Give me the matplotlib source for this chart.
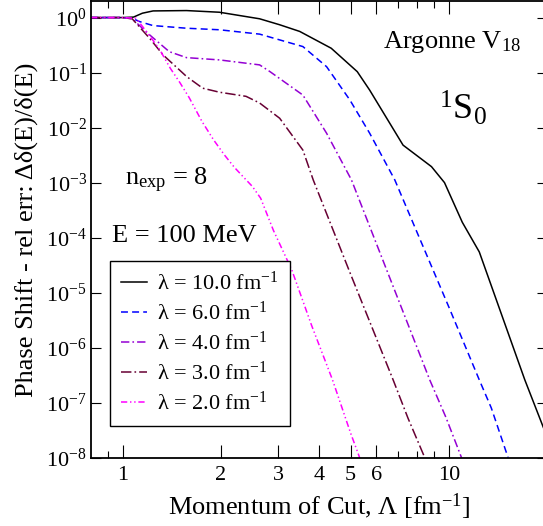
import matplotlib
matplotlib.use('Agg')
import matplotlib.pyplot as plt
import matplotlib.ticker as mticker

plt.rcParams['font.family'] = ['Liberation Serif', 'DejaVu Serif']
plt.rcParams['mathtext.fontset'] = 'custom'
plt.rcParams['mathtext.rm'] = 'Liberation Serif'
plt.rcParams['mathtext.it'] = 'Liberation Serif:italic'
plt.rcParams['mathtext.bf'] = 'Liberation Serif:bold'
plt.rcParams['lines.scale_dashes'] = False

# relative error of the 1S0 phase shift vs. momentum cut, one curve per lambda
lam_labels = ['λ = 10.0 fm$^{-1}$', 'λ = 6.0 fm$^{-1}$',
              'λ = 4.0 fm$^{-1}$', 'λ = 3.0 fm$^{-1}$',
              'λ = 2.0 fm$^{-1}$']

cut_10 = [0.8, 1.0, 1.08, 1.15, 1.24, 1.57, 1.98, 2.63, 3.03, 3.49, 4.36, 5.24,
          5.72, 7.24, 8.85, 9.7, 11.0, 12.4, 17.1, 20.0]
err_10 = [1, 1, 1.02, 1.2, 1.32, 1.34, 1.25, 0.95, 0.74, 0.56, 0.277, 0.104,
          0.048, 4.8e-3, 1.95e-3, 1e-3, 1.9e-4, 5.5e-5, 2.6e-7, 2.4e-8]

cut_6 = [0.8, 1.0, 1.07, 1.127, 1.239, 1.57, 1.98, 2.63, 3.57, 4.22, 4.97, 5.72,
         6.83, 8.0, 10.0, 12.4, 13.5, 15.2]
err_6 = [1, 1, 0.97, 0.846, 0.715, 0.64, 0.60, 0.50, 0.297, 0.128, 0.032, 7.9e-3,
         1.12e-3, 1.23e-4, 5.5e-6, 2.6e-7, 8e-8, 1e-8]

cut_4 = [0.8, 1.0, 1.07, 1.21, 1.39, 1.57, 1.98, 2.63, 2.83, 3.57, 4.22, 5.03,
         6.5, 8.74, 9.8, 10.94]
err_4 = [1, 1, 0.95, 0.485, 0.24, 0.187, 0.17, 0.138, 0.104, 0.039, 7.9e-3,
         1.12e-3, 2.3e-5, 2.6e-7, 5.4e-8, 1e-8]

cut_3 = [0.8, 1.0, 1.07, 1.21, 1.33, 1.57, 1.76, 1.98, 2.39, 2.63, 3.03, 3.57,
         3.84, 5.0, 6.75, 7.5, 8.44]
err_3 = [1, 1, 0.95, 0.42, 0.21, 0.085, 0.052, 0.044, 0.037, 0.028, 0.0148,
         3.9e-3, 1.12e-3, 2.16e-5, 2.6e-7, 5.2e-8, 1e-8]

cut_2 = [0.8, 1.0, 1.1, 1.2, 1.3, 1.4, 1.5, 1.6, 1.75, 1.9, 2.05, 2.2, 2.35, 2.5,
         2.65, 2.9, 3.3, 3.8, 4.4, 5.0, 5.33]
err_2 = [1, 1, 0.97, 0.5, 0.26, 0.12, 0.065, 0.035, 0.013, 6e-3, 3.2e-3, 1.9e-3,
         1.25e-3, 8.5e-4, 5.2e-4, 1.35e-4, 2.6e-5, 2.5e-6, 2.6e-7, 2.8e-8, 1e-8]

xticks_major = [1, 2, 3, 4, 5, 6, 10]
xticks_minor = [0.9, 7, 8, 9, 20]

fig = plt.figure(figsize=(5.43, 5.26), dpi=100)
ax = fig.add_axes([91/543, 68.3/526, 456/543, 456.7/526])

lw = 1.1
ax.plot(cut_10, err_10, color='black', lw=lw, label=lam_labels[0])
ax.plot(cut_6, err_6, color='#0000ff', lw=lw, dashes=(5, 3), label=lam_labels[1])
ax.plot(cut_4, err_4, color='#9400d3', lw=lw, dashes=(6, 2.2, 1.2, 2.2), label=lam_labels[2])
ax.plot(cut_3, err_3, color='#670033', lw=lw, dashes=(7.5, 2.2, 1.2, 2.2), label=lam_labels[3])
ax.plot(cut_2, err_2, color='#ff00ff', lw=lw, dashes=(4.5, 2, 1, 2, 1, 2), label=lam_labels[4])

ax.set_xscale('log')
ax.set_yscale('log')
ax.set_xlim(0.8, 20)
ax.set_ylim(1e-8, 2)

ax.xaxis.set_major_locator(mticker.FixedLocator(xticks_major))
ax.xaxis.set_major_formatter(mticker.FixedFormatter([str(t) for t in xticks_major]))
ax.xaxis.set_minor_locator(mticker.FixedLocator(xticks_minor))
ax.xaxis.set_minor_formatter(mticker.NullFormatter())
ax.yaxis.set_major_locator(mticker.LogLocator(base=10, numticks=20))
ax.yaxis.set_minor_locator(mticker.NullLocator())

ax.tick_params(axis='both', which='both', direction='in', top=True, right=True,
               labelsize=16, width=0.8)
ax.tick_params(axis='x', which='major', length=9.4, pad=6)
ax.tick_params(axis='x', which='minor', length=4.8)
ax.tick_params(axis='y', which='major', length=7, pad=3)
for sp in ax.spines.values():
    sp.set_linewidth(1.3)

ax.set_xlabel('Momentum of Cut, Λ [fm$^{-1}$]', fontsize=19, labelpad=5)
ax.set_ylabel('Phase Shift - rel err: Δδ(E)/δ(E)', fontsize=19, labelpad=6)

ax.text(0.640, 0.897, r'Argonne V$_{18}$', transform=ax.transAxes, fontsize=19, va='baseline')
ax.text(0.764, 0.739, r'$^{1}$S$_{0}$', transform=ax.transAxes, fontsize=26, va='baseline')
ax.text(0.075, 0.597, r'n$_{\mathrm{exp}}$ = 8', transform=ax.transAxes, fontsize=19, va='baseline')
ax.text(0.045, 0.472, 'E = 100 MeV', transform=ax.transAxes, fontsize=19, va='baseline')

leg = ax.legend(loc='lower left', bbox_to_anchor=(0.042, 0.070), borderaxespad=0,
                fontsize=16, handlelength=1.15, handletextpad=0.45, labelspacing=0.3,
                borderpad=0.5, fancybox=False, framealpha=1, edgecolor='black')
leg.get_frame().set_linewidth(1.0)

fig.savefig('out.png', dpi=100)
